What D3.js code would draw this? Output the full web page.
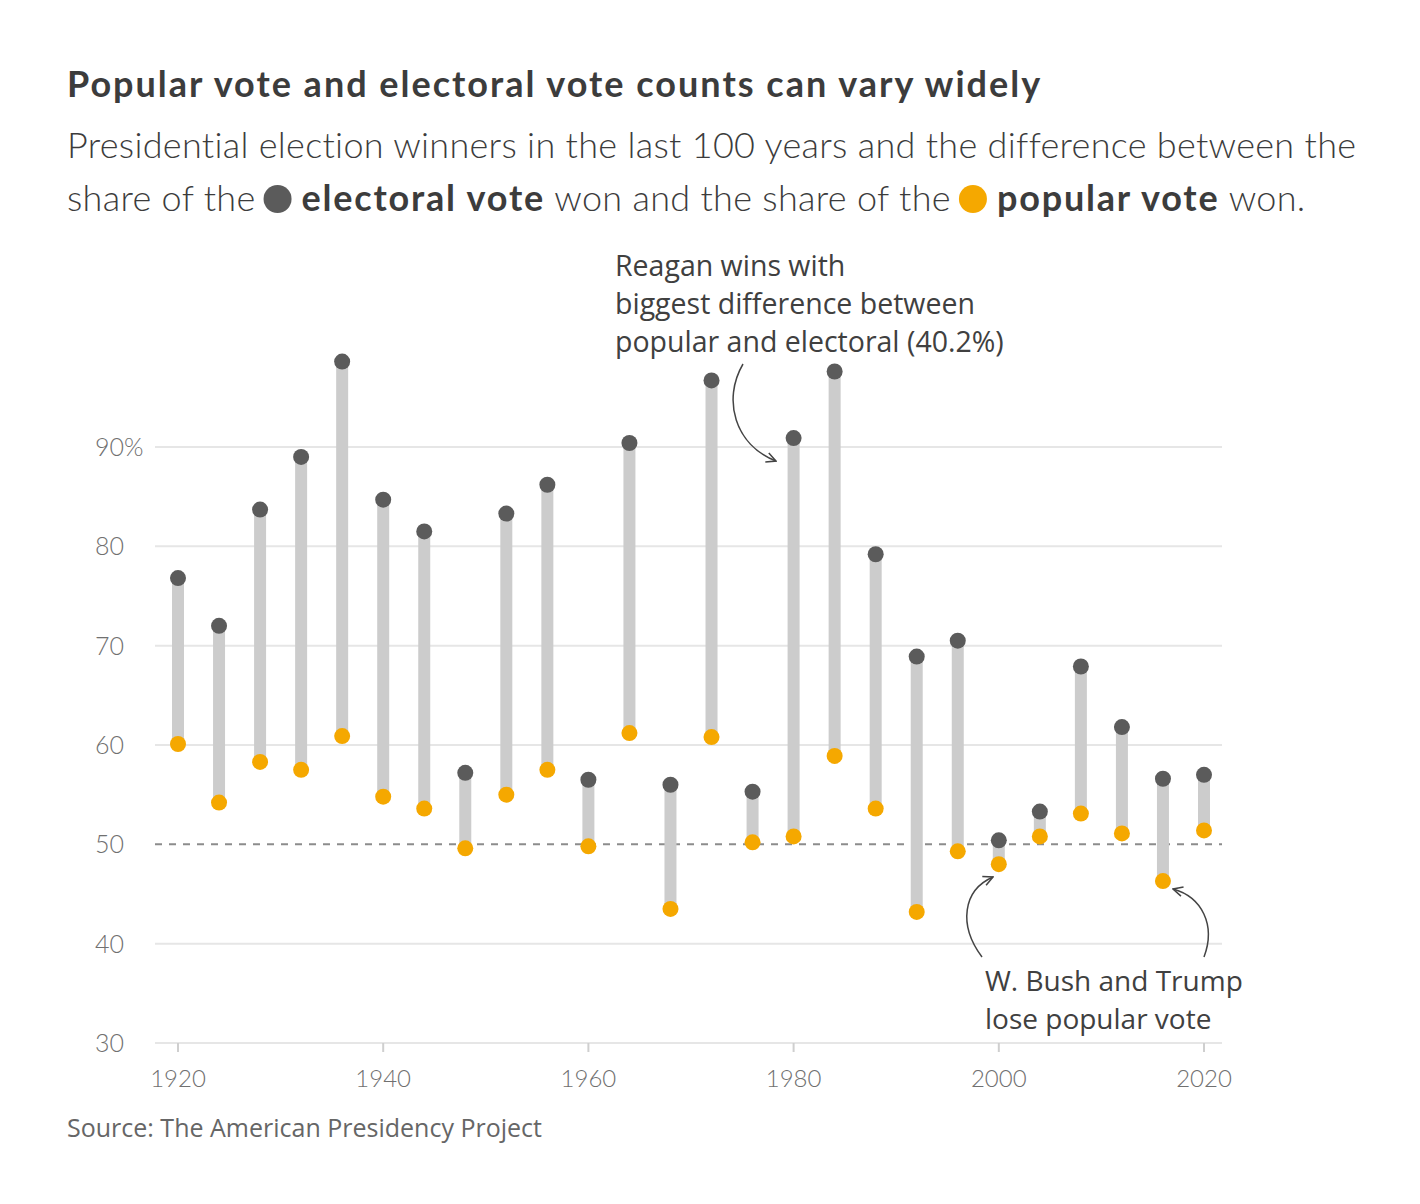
<!DOCTYPE html>
<html>
<head>
<meta charset="utf-8">
<script src="https://cdn.jsdelivr.net/npm/d3@7"></script>
<style>
  body { margin: 0; background: #fff; }
  svg text { font-family: Lato, "Open Sans", sans-serif; }
</style>
</head>
<body>
<svg width="1420" height="1204"></svg>
<script>
// election years and winner's share (%)
var years = [1920, 1924, 1928, 1932, 1936, 1940, 1944, 1948, 1952, 1956, 1960, 1964, 1968,
             1972, 1976, 1980, 1984, 1988, 1992, 1996, 2000, 2004, 2008, 2012, 2016, 2020];
var electoral = [76.8, 72.0, 83.7, 89.0, 98.6, 84.7, 81.5, 57.2, 83.3, 86.2, 56.5, 90.4, 56.0,
                 96.7, 55.3, 90.9, 97.6, 79.2, 68.9, 70.5, 50.4, 53.3, 67.9, 61.8, 56.6, 57.0];
var popular = [60.1, 54.2, 58.3, 57.5, 60.9, 54.8, 53.6, 49.6, 55.0, 57.5, 49.8, 61.2, 43.5,
               60.8, 50.2, 50.8, 58.9, 53.6, 43.2, 49.3, 48.0, 50.8, 53.1, 51.1, 46.3, 51.4];
var yTicks = [30, 40, 50, 60, 70, 80, 90];
var xTicks = [1920, 1940, 1960, 1980, 2000, 2020];

var svg = d3.select('svg');

var x = d3.scaleLinear().domain([1920, 2020]).range([178, 1204]);
var y = d3.scaleLinear().domain([30, 90]).range([1043, 447]);
var gridL = 155, gridR = 1222;

var elColor = '#5b5b5b', popColor = '#f5a800';

// title and subtitle
svg.append('text')
    .attr('x', 67).attr('y', 97)
    .style('font-size', '36px').style('font-weight', 700).style('fill', '#3c3c3c')
    .style('letter-spacing', '2px')
    .text('Popular vote and electoral vote counts can vary widely');

svg.append('text')
    .attr('x', 67).attr('y', 158)
    .style('font-size', '36px').style('font-weight', 300).style('fill', '#3c3c3c')
    .style('letter-spacing', '0.3px')
    .text('Presidential election winners in the last 100 years and the difference between the');

// second subtitle line with legend dots, laid out piece by piece
var line2 = [
    {t: 'share of the ', w: 300},
    {dot: elColor},
    {t: 'electoral vote', w: 700},
    {t: ' won and the share of the ', w: 300},
    {dot: popColor},
    {t: 'popular vote', w: 700},
    {t: ' won.', w: 300}
];
var cx = 67, baseY = 211;
line2.forEach(function(p) {
    if (p.dot) {
        svg.append('circle').attr('cx', cx + 12).attr('cy', baseY - 12).attr('r', 14).attr('fill', p.dot);
        cx += 36;
    } else {
        var t = svg.append('text')
            .attr('x', cx).attr('y', baseY)
            .attr('xml:space', 'preserve')
            .style('white-space', 'pre')
            .style('font-size', '36px').style('font-weight', p.w).style('fill', '#3c3c3c')
            .style('letter-spacing', p.w === 700 ? '1.8px' : '0.3px')
            .text(p.t);
        cx += t.node().getComputedTextLength();
    }
});

// grid lines and y labels
svg.append('g').selectAll('line')
    .data(yTicks.filter(function(d) { return d !== 50; }))
    .enter().append('line')
    .attr('x1', gridL).attr('x2', gridR)
    .attr('y1', function(d) { return y(d); })
    .attr('y2', function(d) { return y(d); })
    .attr('stroke', '#e6e6e6').attr('stroke-width', 2);

svg.append('line')
    .attr('x1', gridL).attr('x2', gridR)
    .attr('y1', y(50)).attr('y2', y(50))
    .attr('stroke', '#8c8c8c').attr('stroke-width', 2)
    .attr('stroke-dasharray', '7,7');

svg.append('g').selectAll('text')
    .data(yTicks)
    .enter().append('text')
    .attr('x', 95)
    .attr('y', function(d) { return y(d); })
    .attr('dy', '0.36em')
    .style('font-size', '25px').style('font-weight', 300).style('fill', '#707070')
    .text(function(d) { return d === 90 ? d + '%' : d; });

// x axis ticks and labels
var xg = svg.append('g');
xg.selectAll('line')
    .data(xTicks)
    .enter().append('line')
    .attr('x1', function(d) { return x(d); })
    .attr('x2', function(d) { return x(d); })
    .attr('y1', y(30)).attr('y2', y(30) + 9)
    .attr('stroke', '#cfcfcf').attr('stroke-width', 2);
xg.selectAll('text')
    .data(xTicks)
    .enter().append('text')
    .attr('x', function(d) { return x(d); })
    .attr('y', 1087)
    .attr('text-anchor', 'middle')
    .style('font-size', '24px').style('font-weight', 300).style('fill', '#707070')
    .text(function(d) { return d; });

// bars and dots
var rows = years.map(function(yr, i) {
    return {year: yr, el: electoral[i], pop: popular[i]};
});

var marks = svg.append('g').selectAll('.elec')
    .data(rows)
    .enter().append('g')
    .attr('class', 'elec');

marks.append('line')
    .attr('x1', function(d) { return x(d.year); })
    .attr('x2', function(d) { return x(d.year); })
    .attr('y1', function(d) { return y(d.el); })
    .attr('y2', function(d) { return y(d.pop); })
    .attr('stroke', '#cccccc').attr('stroke-width', 12);

marks.append('circle')
    .attr('cx', function(d) { return x(d.year); })
    .attr('cy', function(d) { return y(d.el); })
    .attr('r', 8).attr('fill', elColor);

marks.append('circle')
    .attr('cx', function(d) { return x(d.year); })
    .attr('cy', function(d) { return y(d.pop); })
    .attr('r', 8).attr('fill', popColor);

// annotations
svg.append('defs').append('marker')
    .attr('id', 'arrow')
    .attr('viewBox', '0 0 10 10')
    .attr('refX', 9).attr('refY', 5)
    .attr('markerWidth', 12).attr('markerHeight', 12)
    .attr('markerUnits', 'userSpaceOnUse')
    .attr('orient', 'auto')
    .append('path')
    .attr('d', 'M1,1 L9,5 L1,9')
    .attr('fill', 'none').attr('stroke', '#444').attr('stroke-width', 1.3);

function note(lines, x0, y0, size) {
    var t = svg.append('text')
        .attr('x', x0).attr('y', y0)
        .style('font-family', '"Open Sans", sans-serif')
        .style('font-size', size + 'px').style('fill', '#404040');
    lines.forEach(function(l, i) {
        t.append('tspan').attr('x', x0).attr('dy', i ? 38 : 0).text(l);
    });
}

note(['Reagan wins with', 'biggest difference between', 'popular and electoral (40.2%)'], 615, 276, 28.5);
note(['W. Bush and Trump', 'lose popular vote'], 985, 991, 28);

var arrows = [
    'M743,364 C722,400 735,445 776,461',
    'M982,957 C958,925 963,890 993,877',
    'M1204,957 C1216,925 1202,897 1173,889'
];
svg.append('g').selectAll('path')
    .data(arrows)
    .enter().append('path')
    .attr('d', function(d) { return d; })
    .attr('fill', 'none').attr('stroke', '#444').attr('stroke-width', 1.5)
    .attr('marker-end', 'url(#arrow)');

// source
svg.append('text')
    .attr('x', 67).attr('y', 1137)
    .style('font-family', '"Open Sans", sans-serif')
    .style('font-size', '25px').style('fill', '#666')
    .text('Source: The American Presidency Project');
</script>
</body>
</html>
